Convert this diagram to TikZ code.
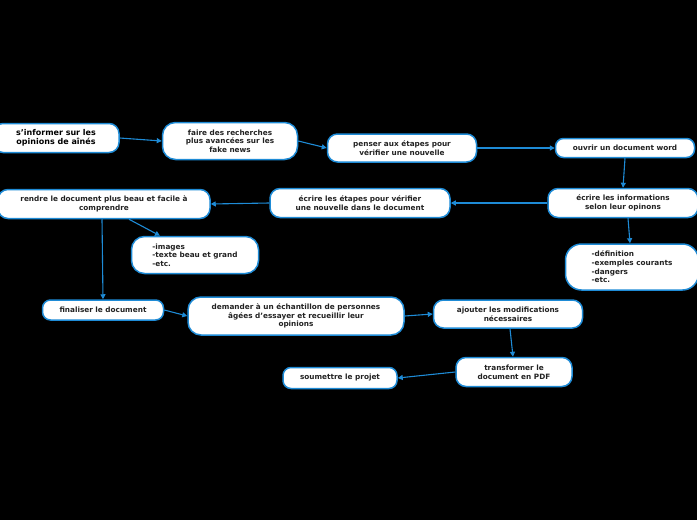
\documentclass[tikz,border=0pt]{standalone}
\usepackage{fontspec}
\setmainfont{DejaVu Sans}
\usetikzlibrary{arrows.meta}
\definecolor{bl}{HTML}{1E8BD6}
\definecolor{tx}{HTML}{222222}
\begin{document}
\begin{tikzpicture}[x=1pt,y=-1pt,
  box/.style={draw=bl, line width=1.5pt, fill=white, rounded corners=10pt,
    align=center, font=\bfseries\fontsize{7.3}{8.6}\selectfont, text=tx, inner sep=0pt},
  conn/.style={draw=bl, line width=1.1pt, -{Triangle[length=5pt,width=5pt]}}]
\fill[black] (0,0) rectangle (697,520);
\useasboundingbox (0,0) rectangle (697,520);

\node[box, minimum width=126pt, minimum height=29pt, font=\bfseries\fontsize{8}{9.4}\selectfont, text=black] (n1) at (56,138) {s'informer sur les\\opinions de aînés};
\node[box, minimum width=135pt, minimum height=37pt, rounded corners=13pt] (n2) at (230,141) {faire des recherches\\plus avancées sur les\\fake news};
\node[box, minimum width=149pt, minimum height=28pt] (n3) at (402,148) {penser aux étapes pour\\vérifier une nouvelle};
\node[box, minimum width=139pt, minimum height=19pt, rounded corners=8pt] (n4) at (625,148) {ouvrir un document word};
\node[box, minimum width=150pt, minimum height=29pt] (n5) at (623,203) {écrire les informations\\selon leur opinons};
\node[box, minimum width=133pt, minimum height=46pt, rounded corners=16pt, align=left] (n6) at (632,267) {-définition\\-exemples courants\\-dangers\\-etc.};
\node[box, minimum width=180pt, minimum height=29pt] (n7) at (360,203) {écrire les étapes pour vérifier\\une nouvelle dans le document};
\node[box, minimum width=212pt, minimum height=29pt] (n8) at (104,204) {rendre le document plus beau et facile à\\comprendre};
\node[box, minimum width=127pt, minimum height=37pt, rounded corners=13pt, align=left] (n9) at (195,255) {-images\\-texte beau et grand\\-etc.};
\node[box, minimum width=121pt, minimum height=20pt, rounded corners=8pt] (n10) at (103,310) {finaliser le document};
\node[box, minimum width=216pt, minimum height=38pt, rounded corners=13pt] (n11) at (296,316) {demander à un échantillon de personnes\\âgées d'essayer et recueillir leur\\opinions};
\node[box, minimum width=149pt, minimum height=28pt] (n12) at (508,314) {ajouter les modifications\\nécessaires};
\node[box, minimum width=116pt, minimum height=29pt] (n13) at (514,372) {transformer le\\document en PDF};
\node[box, minimum width=114pt, minimum height=21pt, rounded corners=8pt] (n14) at (340,378) {soumettre le projet};

\draw[conn] (n1.east) -- (n2.west);
\draw[conn] (n2.east) -- (n3.west);
\draw[conn] (n3.east) -- (n4.west);
\draw[conn] (n4.south) -- (n5.north);
\draw[conn] (n5.west) -- (n7.east);
\draw[conn] (n7.west) -- (n8.east);
\draw[conn] ([xshift=5pt]n5.south) -- ([xshift=-2pt]n6.north);
\draw[conn] ([xshift=25pt]n8.south) -- ([xshift=-35pt]n9.north);
\draw[conn] ([xshift=-2pt]n8.south) -- (n10.north);
\draw[conn] (n10.east) -- (n11.west);
\draw[conn] (n11.east) -- (n12.west);
\draw[conn] ([xshift=2pt]n12.south) -- ([xshift=-1pt]n13.north);
\draw[conn] (n13.west) -- (n14.east);
\end{tikzpicture}
\end{document}
